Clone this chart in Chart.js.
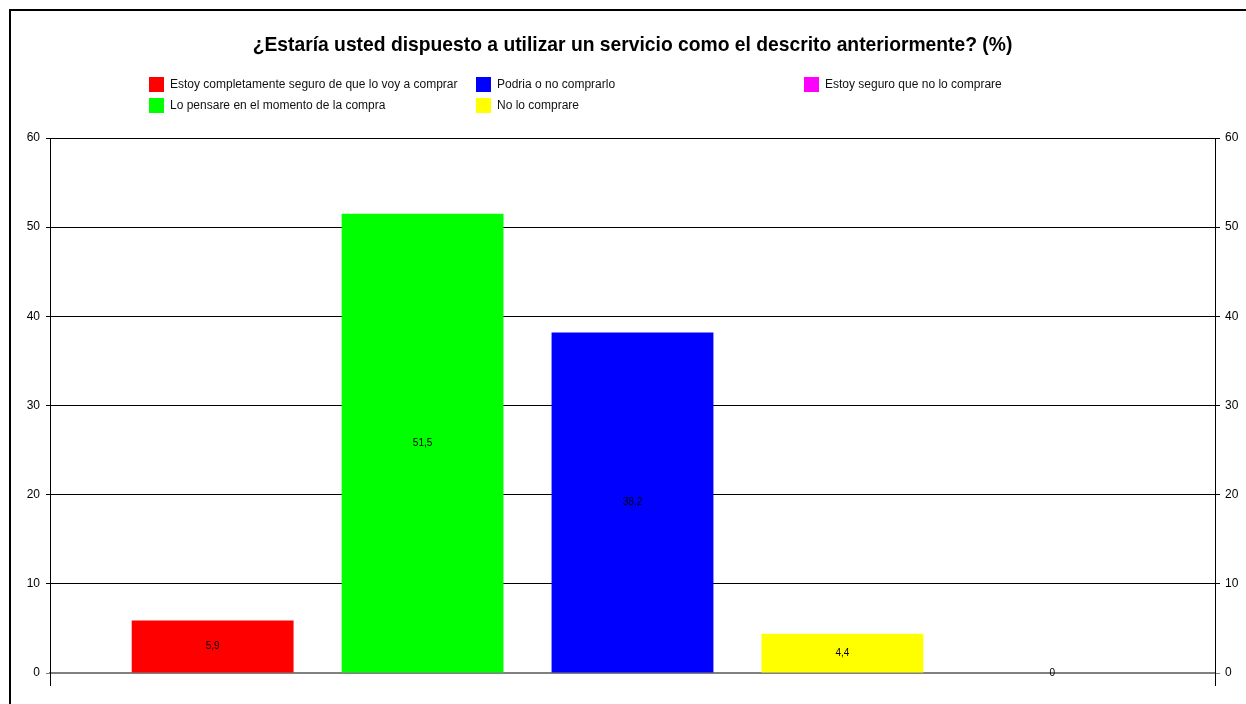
<!DOCTYPE html>
<html lang="es">
<head>
<meta charset="utf-8">
<title>Encuesta servicio</title>
<script src="https://cdn.jsdelivr.net/npm/chart.js@4.4.1/dist/chart.umd.min.js"></script>
<style>
  html, body { margin: 0; padding: 0; background: #fff; }
  body { width: 1246px; height: 704px; position: relative; overflow: hidden; font-family: "Liberation Sans", Arial, sans-serif; }
  #marco { position: absolute; left: 9px; top: 9px; width: 1300px; height: 800px; border-left: 2px solid #000; border-top: 2px solid #000; }
  #Grafico { position: absolute; left: 0; top: 0; }
  #titulo { position: absolute; left: 50px; width: 1165px; top: 35px; text-align: center; font-weight: bold; font-size: 19.3px; line-height: 19px; color: #000; }
  #leyenda .item { position: absolute; font-size: 12px; line-height: 15px; color: #111; white-space: nowrap; }
  #leyenda .caja { position: absolute; left: 0; top: 0; width: 15px; height: 15px; }
  #leyenda .texto { position: absolute; left: 21px; top: 0; }
</style>
</head>
<body>
<div id="marco"></div>
<canvas id="Grafico" width="1246" height="704"></canvas>
<div id="titulo">¿Estaría usted dispuesto a utilizar un servicio como el descrito anteriormente? (%)</div>
<div id="leyenda"></div>
<script>
// respuestas y porcentajes
const categorias = [
  "Estoy completamente seguro de que lo voy a comprar",
  "Lo pensare en el momento de la compra",
  "Podria o no comprarlo",
  "No lo comprare",
  "Estoy seguro que no lo comprare"
];
const porcentajes = [5.9, 51.5, 38.2, 4.4, 0];
const colores = ["#FF0000", "#00FF00", "#0000FF", "#FFFF00", "#FF00FF"];
const ejeMin = 0;
const ejeMax = 60;
const ejePaso = 10;

// etiqueta con el valor en el centro de cada barra
const etiquetasValor = {
  id: "etiquetasValor",
  afterDatasetsDraw(chart) {
    const ctx = chart.ctx;
    ctx.save();
    ctx.font = "10px 'Liberation Sans', Arial, sans-serif";
    ctx.fillStyle = "#000";
    ctx.textAlign = "center";
    ctx.textBaseline = "middle";
    chart.data.datasets.forEach((ds, i) => {
      chart.getDatasetMeta(i).data.forEach((barra, j) => {
        let v = ds.data[j];
        ctx.fillText(String(v).replace(".", ","), barra.x, (barra.y + barra.base) / 2);
      });
    });
    ctx.restore();
  }
};

document.addEventListener("DOMContentLoaded", function () {
  let canva = document.getElementById("Grafico").getContext("2d");

  let datasets = categorias.map((c, i) => ({
    label: c,
    data: [porcentajes[i]],
    backgroundColor: colores[i],
    borderWidth: 0,
    categoryPercentage: 0.901,
    barPercentage: 0.771
  }));

  let ejeY = {
    min: ejeMin,
    max: ejeMax,
    ticks: { stepSize: ejePaso, color: "#000", padding: 6, font: { family: "'Liberation Sans', Arial, sans-serif", size: 12 } },
    grid: {
      color: c => c.tick && c.tick.value === 0 ? "rgba(0,0,0,0)" : "#000",
      tickColor: c => c.tick && c.tick.value === 0 ? "#808080" : "#000",
      tickLength: 4
    },
    border: { color: "#000", width: 1 },
    afterFit: s => { s.width = 50; }
  };

  var chart = new Chart(canva, {
    type: "bar",
    data: { labels: [""], datasets: datasets },
    options: {
      responsive: false,
      animation: false,
      layout: { padding: { top: 138, left: 0, right: 0, bottom: 0 } },
      plugins: { legend: { display: false }, title: { display: false }, tooltip: { enabled: false } },
      scales: {
        x: {
          ticks: { display: false },
          grid: { offset: true, drawOnChartArea: false, drawTicks: true, tickLength: 13, color: "#000" },
          border: { color: "#808080", width: 2 },
          afterFit: s => { s.height = 31; }
        },
        y: ejeY,
        y2: {
          position: "right",
          min: ejeMin,
          max: ejeMax,
          ticks: { stepSize: ejePaso, color: "#000", padding: 5, font: { family: "'Liberation Sans', Arial, sans-serif", size: 12 } },
          grid: {
            drawOnChartArea: false,
            tickColor: c => c.tick && c.tick.value === 0 ? "#808080" : "#000",
            tickLength: 5
          },
          border: { color: "#000", width: 1 },
          afterFit: s => { s.width = 31; }
        }
      }
    },
    plugins: [etiquetasValor]
  });

  // leyenda en tres columnas de dos filas
  let columnas = [149, 476, 804];
  let filas = [77, 98];
  let leyenda = document.getElementById("leyenda");
  chart.data.datasets.forEach((ds, i) => {
    let item = document.createElement("div");
    item.className = "item";
    item.style.left = columnas[Math.floor(i / 2)] + "px";
    item.style.top = filas[i % 2] + "px";
    item.innerHTML = '<span class="caja" style="background:' + ds.backgroundColor + '"></span><span class="texto"></span>';
    item.querySelector(".texto").textContent = ds.label;
    leyenda.appendChild(item);
  });
});
</script>
</body>
</html>
